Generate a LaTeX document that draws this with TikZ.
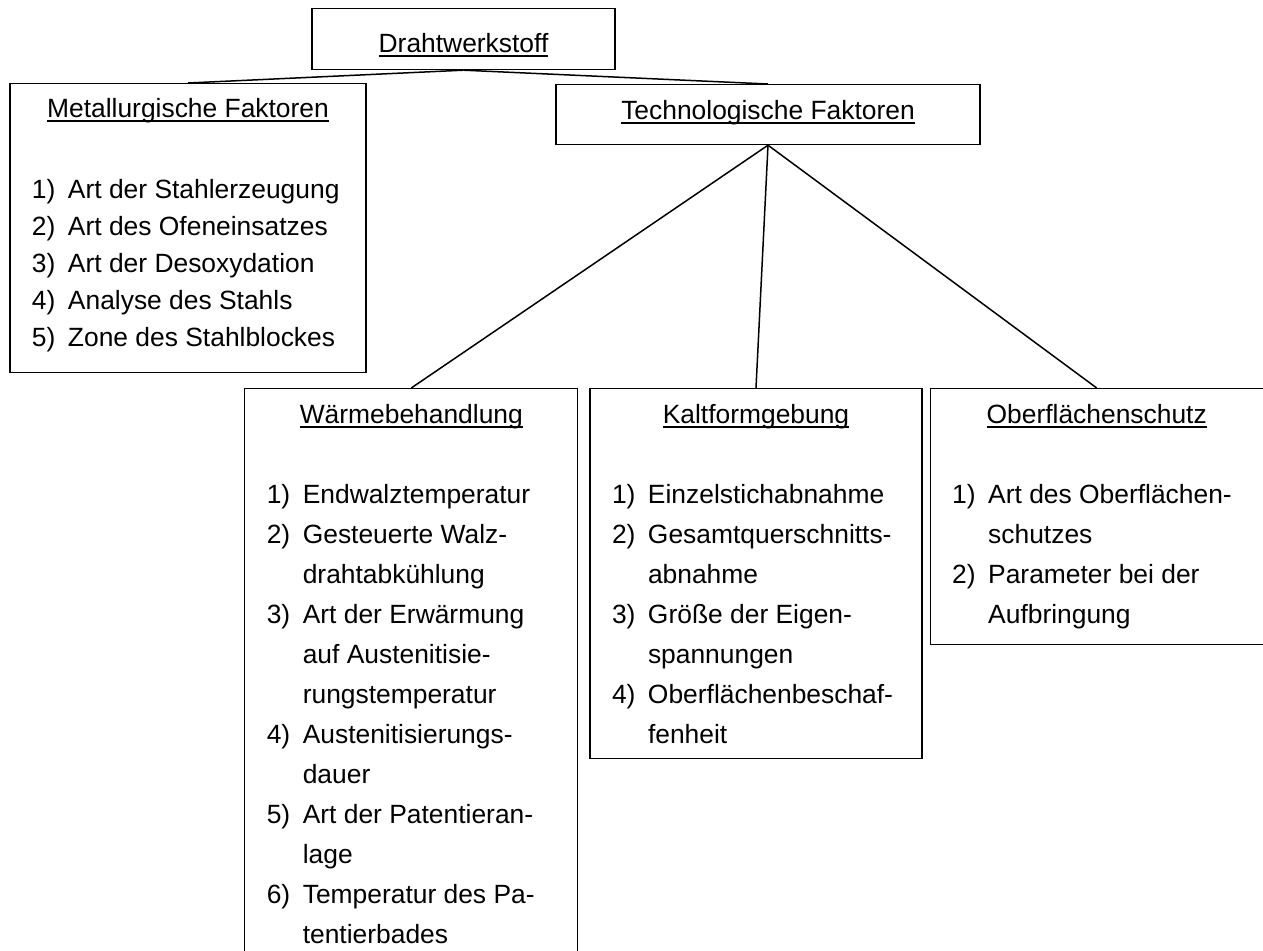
\documentclass[tikz,border=0pt]{standalone}
\usepackage{fontspec}
\setmainfont{Liberation Sans}
\usetikzlibrary{positioning}

\newsavebox{\ulbox}
\newcommand{\unterstr}[1]{\sbox{\ulbox}{#1}\rlap{\rule[-2pt]{\wd\ulbox}{0.9pt}}\usebox{\ulbox}}
% width, height, first baseline, baselineskip, header, items
\newcommand{\inhalt}[6]{\parbox[c][#2][t]{#1}{\fontsize{13.2}{#4}\selectfont
  \centering\rule{0pt}{#3}\unterstr{#5}\par
  \raggedright #6}}
\newcommand{\itm}[2]{\par\noindent\hspace*{11pt}\makebox[18pt][l]{#1}\mbox{#2}}
\newcommand{\weiter}[1]{\par\noindent\hspace*{29pt}\mbox{#1}}

\begin{document}
\begin{tikzpicture}[
  x=0.5pt, y=-0.5pt,
  kasten/.style={draw, line width=0.6pt, inner sep=0pt, anchor=north},
  verb/.style={line width=0.75pt}
]
\useasboundingbox (0,0) rectangle (1263,951);
\node[kasten] (draht) at (463.5,8)
  {\inhalt{151.5pt}{30.5pt}{22pt}{20pt}{Drahtwerkstoff}{}};
\node[kasten] (metall) at (188,83)
  {\inhalt{178pt}{144.5pt}{17pt}{18.5pt}{Metallurgische Faktoren}{\vspace{22pt}
   \itm{1)}{Art der Stahlerzeugung}
   \itm{2)}{Art des Ofeneinsatzes}
   \itm{3)}{Art der Desoxydation}
   \itm{4)}{Analyse des Stahls}
   \itm{5)}{Zone des Stahlblockes}}};
\node[kasten] (techn) at (768,84)
  {\inhalt{212pt}{30pt}{17.5pt}{20pt}{Technologische Faktoren}{}};
\node[kasten] (kalt) at (756,388)
  {\inhalt{166pt}{185pt}{17.5pt}{20pt}{Kaltformgebung}{\vspace{20pt}
   \itm{1)}{Einzelstichabnahme}
   \itm{2)}{Gesamtquerschnitts-}
   \weiter{abnahme}
   \itm{3)}{Größe der Eigen-}
   \weiter{spannungen}
   \itm{4)}{Oberflächenbeschaf-}
   \weiter{fenheit}}};
\node[kasten, left=5.5pt of kalt.north west, anchor=north east] (waerme)
  {\inhalt{166.5pt}{300pt}{17.5pt}{20pt}{Wärmebehandlung}{\vspace{20pt}
   \itm{1)}{Endwalztemperatur}
   \itm{2)}{Gesteuerte Walz-}
   \weiter{drahtabkühlung}
   \itm{3)}{Art der Erwärmung}
   \weiter{auf Austenitisie-}
   \weiter{rungstemperatur}
   \itm{4)}{Austenitisierungs-}
   \weiter{dauer}
   \itm{5)}{Art der Patentieran-}
   \weiter{lage}
   \itm{6)}{Temperatur des Pa-}
   \weiter{tentierbades}}};
\node[kasten, right=3.5pt of kalt.north east, anchor=north west] (oberfl)
  {\inhalt{166.5pt}{128pt}{17.5pt}{20pt}{Oberflächenschutz}{\vspace{20pt}
   \itm{1)}{Art des Oberflächen-}
   \weiter{schutzes}
   \itm{2)}{Parameter bei der}
   \weiter{Aufbringung}}};
\draw[verb] (draht.south) -- (metall.north);
\draw[verb] (draht.south) -- (techn.north);
\draw[verb] (techn.south) -- (waerme.north);
\draw[verb] (techn.south) -- (kalt.north);
\draw[verb] (techn.south) -- (oberfl.north);
\end{tikzpicture}
\end{document}
